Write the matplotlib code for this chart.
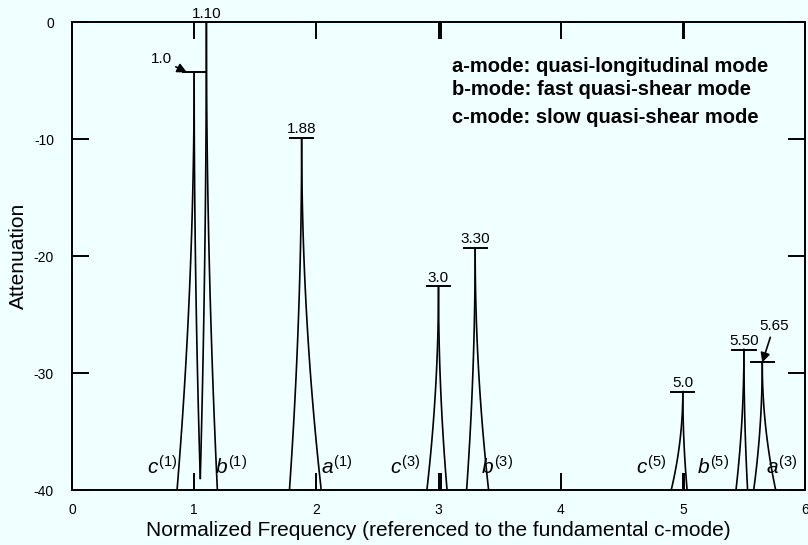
import numpy as np
import matplotlib
matplotlib.use('Agg')
import matplotlib.pyplot as plt

plt.rcParams['font.family'] = ['Liberation Sans', 'DejaVu Sans']
plt.rcParams['mathtext.fontset'] = 'custom'
plt.rcParams['mathtext.it'] = 'Liberation Sans:italic'
plt.rcParams['mathtext.rm'] = 'Liberation Sans'
plt.rcParams['axes.unicode_minus'] = False

# resonance peaks: frequency, attenuation at the top, width of each leg at the base
freqs = [1.0, 1.10, 1.88, 3.0, 3.30, 5.0, 5.50, 5.65]
peak_att = [-4.3, 0.0, -9.9, -22.6, -19.3, -31.6, -28.0, -29.1]
left_w = [0.14, 0.05, 0.10, 0.095, 0.07, 0.095, 0.065, 0.07]
right_w = [0.05, 0.09, 0.16, 0.07, 0.11, 0.035, 0.03, 0.11]
left_end = [-40, -39, -40, -40, -40, -40, -40, -40]
right_end = [-39, -40, -40, -40, -40, -40, -40, -40]
peak_labels = ['1.0', '1.10', '1.88', '3.0', '3.30', '5.0', '5.50', '5.65']

# mode names written along the bottom
mode_names = ['c', 'b', 'a', 'c', 'b', 'c', 'b', 'a']
mode_orders = ['1', '1', '1', '3', '3', '5', '5', '3']
mode_x = [0.74, 1.30, 2.17, 2.73, 3.48, 4.74, 5.25, 5.81]
mode_y = -38.0

legend_lines = ['a-mode: quasi-longitudinal mode',
                'b-mode: fast quasi-shear mode',
                'c-mode: slow quasi-shear mode']

bg = '#f0ffff'
fig = plt.figure(figsize=(8.08, 5.45), dpi=100, facecolor=bg)
ax = fig.add_axes([0.0891, 0.1009, 0.9072, 0.8587], facecolor=bg)

for i in range(len(freqs)):
    f0 = freqs[i]
    top = peak_att[i]
    # left leg
    yl = np.linspace(top, left_end[i], 60)
    xl = f0 - left_w[i] * ((top - yl) / (top - left_end[i])) ** 2
    ax.plot(xl, yl, color='k', lw=1.2)
    # right leg
    yr = np.linspace(top, right_end[i], 60)
    xr = f0 + right_w[i] * ((top - yr) / (top - right_end[i])) ** 2
    ax.plot(xr, yr, color='k', lw=1.2)
    # cap at the top of the peak
    ax.plot([f0 - 0.095, f0 + 0.095], [top, top], color='k', lw=1.4, clip_on=False)

# value labels over the caps
for i in range(len(freqs)):
    if peak_labels[i] in ('1.0', '5.65'):
        continue
    ax.annotate(peak_labels[i], xy=(freqs[i], peak_att[i]), xytext=(0, 1),
                textcoords='offset points', ha='center', va='bottom',
                fontsize=11, annotation_clip=False)

ax.annotate('1.0', xy=(freqs[0] - 0.06, peak_att[0]), xytext=(0.73, -3.2),
            ha='center', va='center', fontsize=11,
            arrowprops=dict(arrowstyle='-|>', color='k', lw=1.2, mutation_scale=14,
                            shrinkA=1, shrinkB=0))
ax.annotate('5.65', xy=(freqs[7], peak_att[7]), xytext=(5.745, -26.0),
            ha='center', va='center', fontsize=11,
            arrowprops=dict(arrowstyle='-|>', color='k', lw=1.2, mutation_scale=14,
                            shrinkA=1, shrinkB=0))

for i in range(len(mode_names)):
    ax.text(mode_x[i], mode_y, r'$%s^{\mathrm{(%s)}}$' % (mode_names[i], mode_orders[i]),
            ha='center', va='center', fontsize=15)

for i, line in enumerate(legend_lines):
    ax.text(0.518, [0.906, 0.855, 0.797][i], line, transform=ax.transAxes,
            fontsize=14.5, fontweight='bold', ha='left', va='center')

ax.set_xlim(0, 6)
ax.set_ylim(-40, 0)
ax.set_xticks([0, 1, 2, 3, 4, 5, 6])
ax.set_xticks([3.02, 5.01], minor=True)
ax.set_yticks([0, -10, -20, -30, -40])
ax.tick_params(which='both', direction='in', length=12, width=1.4,
               top=True, right=True, labelsize=10, pad=9)
ax.tick_params(which='minor', length=12, width=1.4)
ax.tick_params(axis='y', pad=13)
for s in ax.spines.values():
    s.set_linewidth(1.4)

ax.set_xlabel('Normalized Frequency (referenced to the fundamental c-mode)', fontsize=15, labelpad=3)
ax.set_ylabel('Attenuation', fontsize=15, labelpad=4)

fig.savefig('out.png', dpi=100, facecolor=bg)
